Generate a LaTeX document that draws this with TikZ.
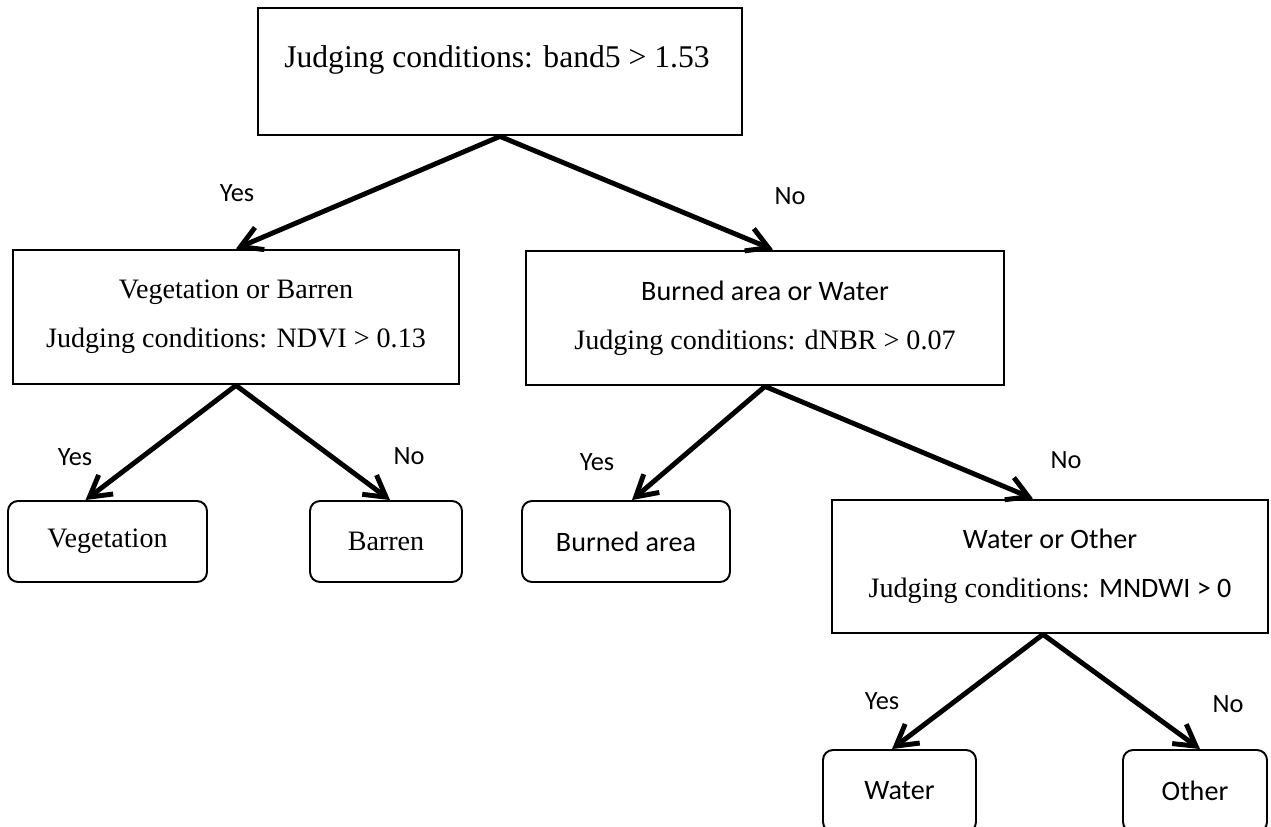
\documentclass[tikz,border=0pt]{standalone}
\usepackage{fontspec}
\setmainfont{Liberation Serif}
\newfontfamily\calibsf{Carlito}
\usetikzlibrary{arrows.meta,positioning}

\begin{document}
\begin{tikzpicture}[x=0.02cm,y=-0.02cm,>={Straight Barb[angle=60:0.48cm]},font=\fontsize{16}{28}\selectfont]
\tikzstyle{b}=[draw,line width=1.6pt,align=center,minimum height=2.68cm]
\tikzstyle{leaf}=[draw,line width=1.1pt,rounded corners=0.2cm,minimum height=1.62cm]
\tikzstyle{yn}=[font=\calibsf\fontsize{15}{18}\selectfont]
\tikzstyle{arr}=[->,line width=2.8pt]
\useasboundingbox (0,0) rectangle (1271,827);
% root
\node[b,minimum width=9.68cm,minimum height=2.54cm] (top) at (500,71.5) {};
\node[font=\fontsize{18}{22}\selectfont] (toptxt) at (497,60) {Judging conditions: band5 > 1.53};
% second level
\node[b,minimum width=8.92cm] (vb) at (236,317) {Vegetation or Barren\\Judging conditions: NDVI > 0.13};
\node[b,minimum width=9.56cm] (bw) at (765,318) {{\calibsf Burned area or Water}\\Judging conditions: dNBR > 0.07};
\node[b,minimum width=8.72cm,minimum height=2.66cm] (wo) at (1050,566.5) {{\calibsf Water or Other}\\Judging conditions: {\calibsf MNDWI > 0}};
% leaves
\node[leaf,minimum width=3.98cm] (veg) at (107.5,541.5) {Vegetation};
\node[leaf,minimum width=3.04cm] (bar) at (386,541.5) {Barren};
\node[leaf,minimum width=4.16cm,font=\calibsf\fontsize{16}{20}\selectfont] (bur) at (626,541.5) {Burned area};
\node[leaf,minimum width=3.06cm,minimum height=1.64cm,font=\calibsf\fontsize{16}{20}\selectfont] (wat) at (899.5,791) {Water};
\node[leaf,minimum width=2.88cm,minimum height=1.64cm,font=\calibsf\fontsize{16}{20}\selectfont] (oth) at (1195,791) {Other};
% branches
\draw[arr] (top.south) -- (vb.north);
\draw[arr] (top.south) -- ([xshift=0.16cm]bw.north);
\draw[arr] (vb.south) -- ([xshift=-0.44cm]veg.north);
\draw[arr] (vb.south) -- ([xshift=0.08cm]bar.north);
\draw[arr] (bw.south) -- ([xshift=0.12cm]bur.north);
\draw[arr] (bw.south) -- ([xshift=-0.34cm]wo.north);
\draw[arr] ([xshift=-0.14cm]wo.south) -- ([xshift=-0.15cm]wat.north);
\draw[arr] ([xshift=-0.14cm]wo.south) -- ([xshift=0.1cm]oth.north);
\foreach \i/\t/\x/\y in {1/Yes/237/193,2/No/790/196,3/Yes/75/457,4/No/409/456,5/Yes/597/462,6/No/1066/460,7/Yes/882/701,8/No/1228/704} \node[yn] (l\i) at (\x,\y) {\t};
\end{tikzpicture}
\end{document}
